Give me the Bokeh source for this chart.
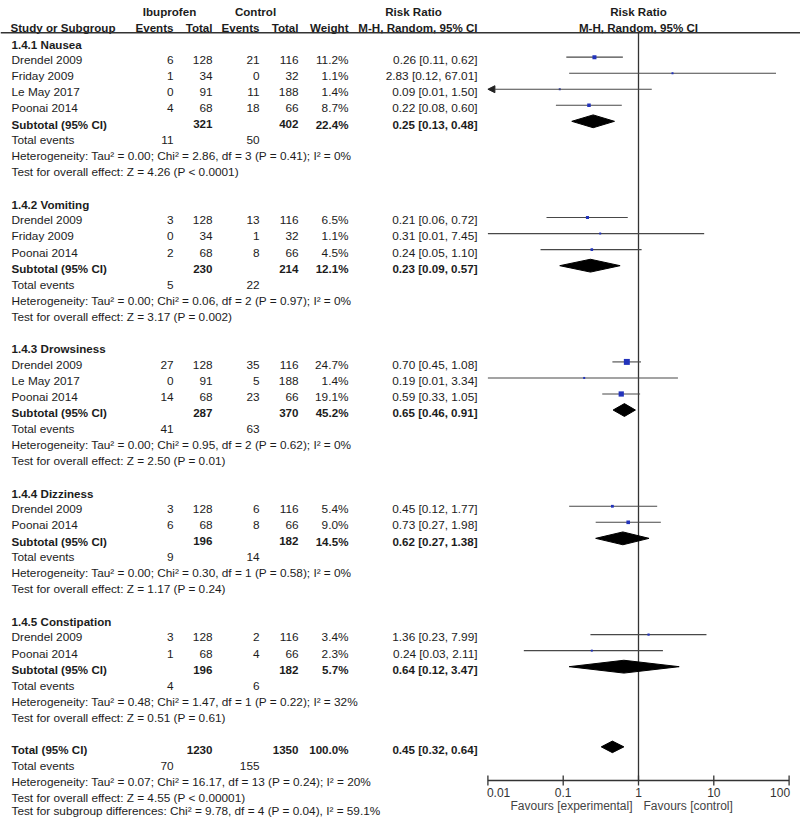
import math
from collections import defaultdict
from bokeh.plotting import figure
from bokeh.models import Range1d, Span, ColumnDataSource, Arrow, NormalHead, LogScale
from bokeh.core.properties import value
from bokeh.embed import file_html
from bokeh.resources import INLINE

# ---------------- data ----------------
subgroups = ["1.4.1 Nausea", "1.4.2 Vomiting", "1.4.3 Drowsiness", "1.4.4 Dizziness", "1.4.5 Constipation"]

study_group = [0, 0, 0, 0, 1, 1, 1, 2, 2, 2, 3, 3, 4, 4]
study_names = ["Drendel 2009", "Friday 2009", "Le May 2017", "Poonai 2014",
               "Drendel 2009", "Friday 2009", "Poonai 2014",
               "Drendel 2009", "Le May 2017", "Poonai 2014",
               "Drendel 2009", "Poonai 2014",
               "Drendel 2009", "Poonai 2014"]
ibu_events = [6, 1, 0, 4, 3, 0, 2, 27, 0, 14, 3, 6, 3, 1]
ibu_total = [128, 34, 91, 68, 128, 34, 68, 128, 91, 68, 128, 68, 128, 68]
ctl_events = [21, 0, 11, 18, 13, 1, 8, 35, 5, 23, 6, 8, 2, 4]
ctl_total = [116, 32, 188, 66, 116, 32, 66, 116, 188, 66, 116, 66, 116, 66]
weights = [11.2, 1.1, 1.4, 8.7, 6.5, 1.1, 4.5, 24.7, 1.4, 19.1, 5.4, 9.0, 3.4, 2.3]
rr = [0.26, 2.83, 0.09, 0.22, 0.21, 0.31, 0.24, 0.70, 0.19, 0.59, 0.45, 0.73, 1.36, 0.24]
rr_lo = [0.11, 0.12, 0.01, 0.08, 0.06, 0.01, 0.05, 0.45, 0.01, 0.33, 0.12, 0.27, 0.23, 0.03]
rr_hi = [0.62, 67.01, 1.50, 0.60, 0.72, 7.45, 1.10, 1.08, 3.34, 1.05, 1.77, 1.98, 7.99, 2.11]
ci_truncated = [False, False, True, False, False, False, False, False, False, False, False, False, False, False]

sub_ibu_total = [321, 230, 287, 196, 196]
sub_ctl_total = [402, 214, 370, 182, 182]
sub_weight = [22.4, 12.1, 45.2, 14.5, 5.7]
sub_rr = [0.25, 0.23, 0.65, 0.62, 0.64]
sub_lo = [0.13, 0.09, 0.46, 0.27, 0.12]
sub_hi = [0.48, 0.57, 0.91, 1.38, 3.47]
sub_ibu_events = [11, 5, 41, 9, 4]
sub_ctl_events = [50, 22, 63, 14, 6]
het_tau2 = ["0.00", "0.00", "0.00", "0.00", "0.48"]
het_chi2 = ["2.86", "0.06", "0.95", "0.30", "1.47"]
het_df = [3, 2, 2, 1, 1]
het_p = ["0.41", "0.97", "0.62", "0.58", "0.22"]
het_i2 = ["0", "0", "0", "0", "32"]
z_val = ["4.26", "3.17", "2.50", "1.17", "0.51"]
z_p = ["P < 0.0001", "P = 0.002", "P = 0.01", "P = 0.24", "P = 0.61"]

tot_ibu_total = 1230
tot_ctl_total = 1350
tot_weight = 100.0
tot_rr, tot_lo, tot_hi = 0.45, 0.32, 0.64
tot_ibu_events, tot_ctl_events = 70, 155
tot_het = "Heterogeneity: Tau\u00b2 = 0.07; Chi\u00b2 = 16.17, df = 13 (P = 0.24); I\u00b2 = 20%"
tot_z = "Test for overall effect: Z = 4.55 (P < 0.00001)"
tot_sub = "Test for subgroup differences: Chi\u00b2 = 9.78, df = 4 (P = 0.04), I\u00b2 = 59.1%"

tick_values = [0.01, 0.1, 1, 10, 100]
tick_labels = ["0.01", "0.1", "1", "10", "100"]
favours = ["Favours [experimental]", "Favours [control]"]

# ---------------- layout constants ----------------
W, H = 800, 819
Y0, DY = 43.5, 16.04          # first row centre, row pitch (px)
X_ONE, PX_DEC = 638.0, 75.3   # pixel of RR = 1, pixels per decade
FONT = value("Liberation Sans")
FS_R = value("11.8px")
FS_B = value("11.6px")
TXT = "#1c1c1c"
LINE = "#333333"

def ref_row(ypx):
    return (ypx - Y0) / DY

X_NAME, X_IE, X_IT, X_CE, X_CT, X_W, X_RR = 11, 173, 212, 259, 298, 348, 477

texts = defaultdict(lambda: {"x": [], "y": [], "t": []})

def add(x, y, t, align="right", bold=False):
    d = texts[(align, bold)]
    d["x"].append(x); d["y"].append(y); d["t"].append(t)

def rr_txt(e, l, h):
    return f"{e:.2f} [{l:.2f}, {h:.2f}]"

HEAD1, HEAD2 = ref_row(11), ref_row(26.7)
add(169, HEAD1, "Ibuprofen", "center", True)
add(255, HEAD1, "Control", "center", True)
add(413, HEAD1, "Risk Ratio", "center", True)
add(10, HEAD2, "Study or Subgroup", "left", True)
add(X_IE, HEAD2, "Events", "right", True)
add(X_IT, HEAD2, "Total", "right", True)
add(X_CE, HEAD2, "Events", "right", True)
add(X_CT, HEAD2, "Total", "right", True)
add(X_W, HEAD2, "Weight", "right", True)
add(X_RR, HEAD2, "M-H, Random, 95% CI", "right", True)

seg = {"lo": [], "hi": [], "y": []}
pts = {"est": [], "y": [], "size": []}
arrows = {"lo": [], "hi": [], "y": []}
dia = {"xs": [], "ys": []}
OFF = -0.18
HD = 0.4

r = 0
for g, name in enumerate(subgroups):
    add(X_NAME, r, name, "left", True)
    r += 1
    for i in range(len(study_names)):
        if study_group[i] != g:
            continue
        add(X_NAME, r, study_names[i], "left")
        add(X_IE, r, str(ibu_events[i]))
        add(X_IT, r, str(ibu_total[i]))
        add(X_CE, r, str(ctl_events[i]))
        add(X_CT, r, str(ctl_total[i]))
        add(X_W, r, f"{weights[i]:.1f}%")
        add(X_RR, r, rr_txt(rr[i], rr_lo[i], rr_hi[i]))
        tgt = arrows if ci_truncated[i] else seg
        tgt["lo"].append(rr_lo[i]); tgt["hi"].append(rr_hi[i]); tgt["y"].append(r + OFF)
        pts["est"].append(rr[i]); pts["y"].append(r + OFF)
        pts["size"].append(max(2.0, 1.2 * math.sqrt(weights[i])))
        r += 1
    add(X_NAME, r, "Subtotal (95% CI)", "left", True)
    add(X_IT, r, str(sub_ibu_total[g]), "right", True)
    add(X_CT, r, str(sub_ctl_total[g]), "right", True)
    add(X_W, r, f"{sub_weight[g]:.1f}%", "right", True)
    add(X_RR, r, rr_txt(sub_rr[g], sub_lo[g], sub_hi[g]), "right", True)
    yy = r + OFF
    dia["xs"].append([sub_lo[g], sub_rr[g], sub_hi[g], sub_rr[g]])
    dia["ys"].append([yy, yy - HD, yy, yy + HD])
    r += 1
    add(X_NAME, r, "Total events", "left")
    add(X_IE, r, str(sub_ibu_events[g]))
    add(X_CE, r, str(sub_ctl_events[g]))
    r += 1
    add(X_NAME, r, f"Heterogeneity: Tau\u00b2 = {het_tau2[g]}; Chi\u00b2 = {het_chi2[g]}, df = {het_df[g]} (P = {het_p[g]}); I\u00b2 = {het_i2[g]}%", "left")
    r += 1
    add(X_NAME, r, f"Test for overall effect: Z = {z_val[g]} ({z_p[g]})", "left")
    r += 2

add(X_NAME, r, "Total (95% CI)", "left", True)
add(X_IT, r, str(tot_ibu_total), "right", True)
add(X_CT, r, str(tot_ctl_total), "right", True)
add(X_W, r, f"{tot_weight:.1f}%", "right", True)
add(X_RR, r, rr_txt(tot_rr, tot_lo, tot_hi), "right", True)
yy = r + OFF
dia["xs"].append([tot_lo, tot_rr, tot_hi, tot_rr])
dia["ys"].append([yy, yy - HD * 0.9, yy, yy + HD * 0.9])
r += 1
add(X_NAME, r, "Total events", "left")
add(X_IE, r, str(tot_ibu_events))
add(X_CE, r, str(tot_ctl_events))
r += 1
add(X_NAME, r, tot_het, "left"); r += 1
add(X_NAME, r, tot_z, "left"); r += 1
add(X_NAME, ref_row(810.0), tot_sub, "left")   # last line kept inside the page

# ---------------- figure ----------------
lo_log = -(X_ONE / PX_DEC)
hi_log = (W - X_ONE) / PX_DEC
p = figure(width=W, height=H, x_range=Range1d(0, W),
           y_range=Range1d(ref_row(H), ref_row(0)),
           x_axis_location=None, y_axis_location=None,
           toolbar_location=None, output_backend="svg",
           min_border_left=0, min_border_right=0, min_border_top=0, min_border_bottom=0)
p.extra_x_ranges = {"rr": Range1d(10 ** lo_log, 10 ** hi_log)}
p.extra_x_scales = {"rr": LogScale()}
p.grid.visible = False
p.outline_line_color = None

HEADER_Y = ref_row(32.3)
AXIS_Y = ref_row(780)
TICK_H = 5.0 / DY
p.add_layout(Span(location=HEADER_Y, dimension="width", line_color=LINE, line_width=1.5))

for (align, bold), d in texts.items():
    p.text(x=d["x"], y=d["y"], text=d["t"], text_align=align, text_baseline="middle",
           text_font=FONT, text_font_size=FS_B if bold else FS_R, text_color=TXT,
           text_font_style="bold" if bold else "normal")

# forest headers
p.text(x=[1, 1], y=[HEAD1, HEAD2], text=["Risk Ratio", "M-H, Random, 95% CI"],
       text_align="center", text_baseline="middle", text_font=FONT, text_font_size=FS_B,
       text_color=TXT, text_font_style="bold", x_range_name="rr")

# line of no effect
p.segment(x0=[1], y0=[HEADER_Y], x1=[1], y1=[AXIS_Y], line_color=LINE, line_width=1.3, x_range_name="rr")

# confidence intervals
p.segment(x0="lo", y0="y", x1="hi", y1="y", source=ColumnDataSource(seg),
          line_color="#484848", line_width=1.1, x_range_name="rr")
p.add_layout(Arrow(end=NormalHead(size=7, fill_color="#222222", line_color="#222222", line_width=1),
                   x_start="hi", y_start="y", x_end="lo", y_end="y",
                   source=ColumnDataSource(arrows), line_color="#484848", line_width=1.1,
                   x_range_name="rr"))
p.scatter(x="est", y="y", size="size", source=ColumnDataSource(pts), marker="square",
          fill_color="#2233bb", line_color="#2233bb", line_width=0, x_range_name="rr")
p.patches(xs=dia["xs"], ys=dia["ys"], fill_color="black", line_color="black",
          line_width=1, x_range_name="rr")

# risk-ratio axis (log scale)
p.segment(x0=[tick_values[0]], y0=[AXIS_Y], x1=[tick_values[-1]], y1=[AXIS_Y],
          line_color=LINE, line_width=1.3, x_range_name="rr")
p.segment(x0=tick_values, y0=[AXIS_Y - TICK_H] * len(tick_values),
          x1=tick_values, y1=[AXIS_Y + TICK_H] * len(tick_values),
          line_color=LINE, line_width=1.3, x_range_name="rr")
LAB_Y = ref_row(791.5)
n = len(tick_values)
for idx, align in [([0], "left"), (list(range(1, n - 1)), "center"), ([n - 1], "right")]:
    p.text(x=[tick_values[i] for i in idx], y=[LAB_Y] * len(idx), text=[tick_labels[i] for i in idx],
           text_align=align, text_baseline="middle", text_font=FONT, text_font_size=value("12px"),
           text_color="#333333", x_offset=-1 if align == "left" else (1 if align == "right" else 0),
           x_range_name="rr")
FAV_Y = ref_row(805)
p.text(x=[1], y=[FAV_Y], text=[favours[0]], text_align="right", text_baseline="middle",
       text_font=FONT, text_font_size=value("12px"), text_color="#444444", x_offset=-6, x_range_name="rr")
p.text(x=[1], y=[FAV_Y], text=[favours[1]], text_align="left", text_baseline="middle",
       text_font=FONT, text_font_size=value("12px"), text_color="#444444", x_offset=5, x_range_name="rr")

open("out.html", "w").write(file_html(p, INLINE))
